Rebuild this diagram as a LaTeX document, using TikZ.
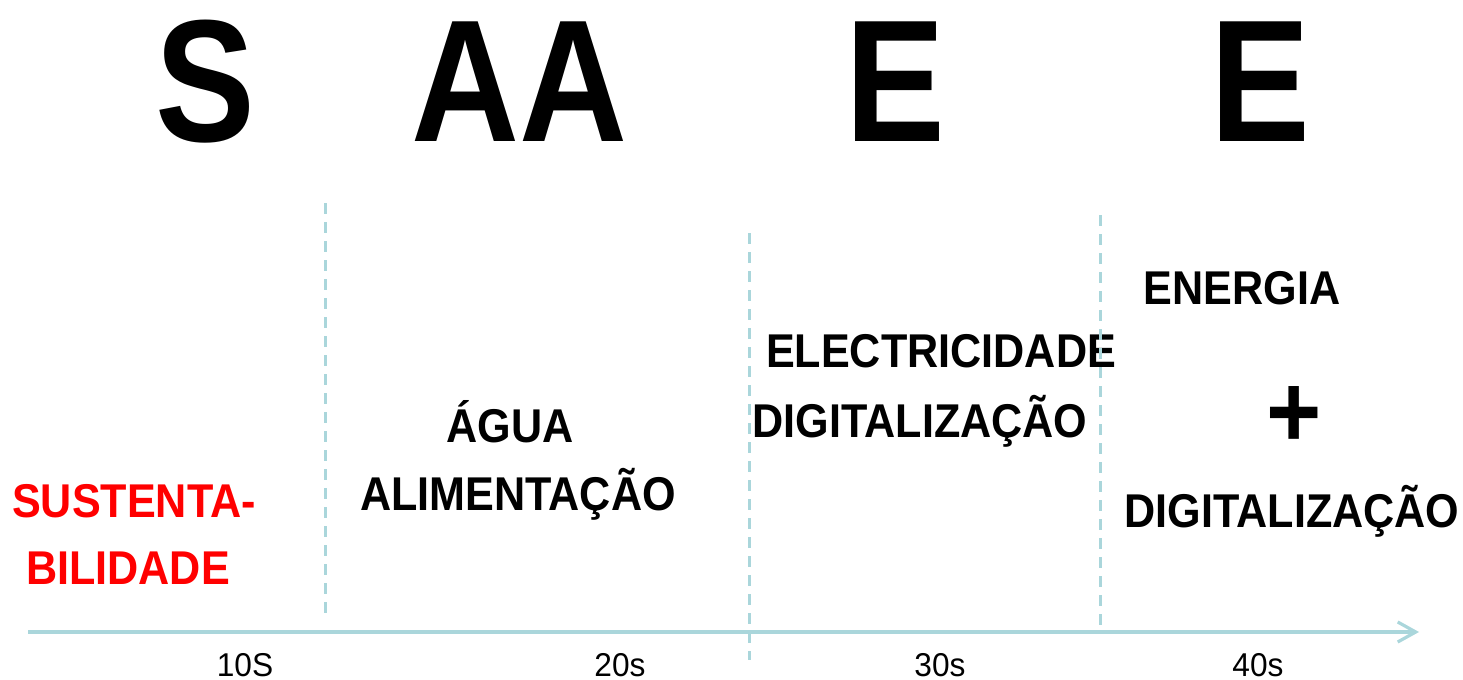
\documentclass[tikz,border=0pt]{standalone}
\usepackage{fontspec}
\setmainfont{Liberation Sans}[FakeStretch=0.91]
\newfontfamily\initialsfont{Liberation Sans}[FakeStretch=0.86]
\newfontfamily\periodfont{Liberation Sans}[FakeStretch=0.96]
\usetikzlibrary{arrows.meta}
\definecolor{lineteal}{RGB}{170,214,219}

\begin{document}
\begin{tikzpicture}[x=0.5pt,y=-0.5pt]
  % Base settings
  \tikzset{
    bigletter/.style={font=\initialsfont\bfseries\fontsize{87}{90}\selectfont, anchor=base, inner sep=0pt},
    topic/.style={font=\bfseries\fontsize{23.7}{26}\selectfont, anchor=base, inner sep=0pt},
    redtopic/.style={topic, text=red},
    period/.style={font=\periodfont\fontsize{16.5}{18}\selectfont, anchor=base, inner sep=0pt},
    divider/.style={lineteal, line width=1.5pt, dash pattern=on 5.5pt off 4pt},
    timeline/.style={lineteal, line width=1.6pt, -{Straight Barb[length=9pt,width=10pt]}}
  }
  \useasboundingbox (0,0) rectangle (1463,680);

  % --- Initials ---
  \node[bigletter] (initS)  at (205,141)  {S};
  \node[bigletter] (initAA) at (520,141)  {AA};
  \node[bigletter] (initE1) at (895,141)  {E};
  \node[bigletter] (initE2) at (1260,141) {E};

  % --- Topics per decade ---
  \node[redtopic] (sust1) at (134,517) {SUSTENTA-};
  \node[redtopic] (sust2) at (128,584) {BILIDADE};

  \node[topic] (agua)  at (510,442) {ÁGUA};
  \node[topic] (alim)  at (518,510) {ALIMENTAÇÃO};

  \node[topic] (elec)  at (941,367) {ELECTRICIDADE};
  \node[topic] (digA)  at (920,437) {DIGITALIZAÇÃO};

  \node[topic] (ener)  at (1242,304) {ENERGIA};
  \node[font=\bfseries\fontsize{52}{56}\selectfont, inner sep=0pt] (plus) at (1294,417) {+};
  \node[topic] (digB)  at (1292,527) {DIGITALIZAÇÃO};

  % --- Dividers ---
  \coordinate (divAtop) at (325,203);
  \coordinate (divAbot) at (325,615);
  \coordinate (divBtop) at (749,233);
  \coordinate (divBbot) at (749,660);
  \coordinate (divCtop) at (1100,215);
  \coordinate (divCbot) at (1100,632);
  \draw[divider] (divAtop) -- (divAbot);
  \draw[divider] (divBtop) -- (divBbot);
  \draw[divider] (divCtop) -- (divCbot);

  % --- Time axis ---
  \coordinate (axisstart) at (28,632);
  \coordinate (axisend)   at (1419,632);
  \draw[timeline] (axisstart) -- (axisend);

  \node[period] (p10) at (245,676)  {10S};
  \node[period] (p20) at (620,676)  {20s};
  \node[period] (p30) at (940,676)  {30s};
  \node[period] (p40) at (1258,676) {40s};

\end{tikzpicture}
\end{document}
